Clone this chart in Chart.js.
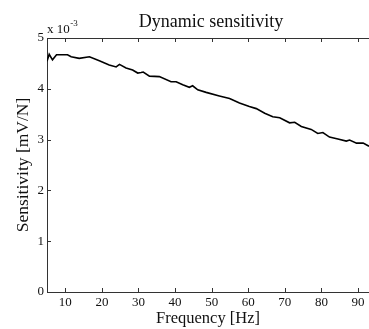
<!DOCTYPE html>
<html>
<head>
<meta charset="utf-8">
<script src="https://cdn.jsdelivr.net/npm/chart.js@4"></script>
<style>
  html, body { margin: 0; padding: 0; background: #fff; }
  #wrap { width: 369px; height: 329px; }
</style>
</head>
<body>
<div id="wrap"><canvas id="c" width="369" height="329"></canvas></div>
<script>
// ---- data ----
const chartTitle = "Dynamic sensitivity";
const xTitle = "Frequency [Hz]";
const yTitle = "Sensitivity [mV/N]";
const yExponent = "-3";
const frequency = [5, 5.6, 6.5, 7.6, 10.6, 11.6, 13.8, 16.6, 19.3, 22, 23.9, 24.8, 26.6, 28.4, 29.8, 30.7, 31.3, 33, 35.7, 38.9, 40.3, 42.1, 43.9, 44.8, 46.2, 48.5, 52.1, 54.9, 57.6, 60.3, 62.2, 64.5, 66.7, 68.6, 71.3, 72.7, 74.5, 77.2, 79, 80.4, 82.2, 84.5, 86.8, 87.7, 89.6, 91.4, 93];
const sensitivity = [4.54, 4.68, 4.57, 4.67, 4.67, 4.63, 4.60, 4.63, 4.55, 4.47, 4.43, 4.48, 4.41, 4.37, 4.31, 4.32, 4.33, 4.25, 4.24, 4.14, 4.14, 4.08, 4.03, 4.06, 3.98, 3.93, 3.86, 3.81, 3.72, 3.65, 3.61, 3.52, 3.45, 3.43, 3.33, 3.34, 3.26, 3.20, 3.12, 3.14, 3.05, 3.01, 2.97, 2.99, 2.93, 2.93, 2.87];
const xTicks = [10, 20, 30, 40, 50, 60, 70, 80, 90];
const yTicks = [0, 1, 2, 3, 4, 5];

const serif = "'Liberation Serif', 'Times New Roman', serif";
const axisColor = '#333';

const decorPlugin = {
  id: 'decor',
  afterDraw(chart) {
    const ctx = chart.ctx;
    const a = chart.chartArea;
    const xs = chart.scales.x, ys = chart.scales.y;
    ctx.save();
    ctx.strokeStyle = axisColor;
    ctx.lineWidth = 1;
    // top border
    ctx.beginPath();
    ctx.moveTo(a.left, a.top + 0.5);
    ctx.lineTo(a.right, a.top + 0.5);
    ctx.stroke();
    // inward ticks
    const L = 4;
    ctx.beginPath();
    xTicks.forEach(v => {
      const px = Math.round(xs.getPixelForValue(v)) + 0.5;
      ctx.moveTo(px, a.bottom); ctx.lineTo(px, a.bottom - L);
      ctx.moveTo(px, a.top); ctx.lineTo(px, a.top + L);
    });
    yTicks.forEach(v => {
      const py = Math.round(ys.getPixelForValue(v)) + 0.5;
      ctx.moveTo(a.left, py); ctx.lineTo(a.left + L, py);
    });
    ctx.stroke();
    // title
    ctx.fillStyle = '#111';
    ctx.font = "18px " + serif;
    ctx.textAlign = 'center';
    ctx.textBaseline = 'alphabetic';
    ctx.fillText(chartTitle, 211, 27);
    // exponent
    ctx.textAlign = 'left';
    ctx.font = "13px " + serif;
    ctx.fillText("x 10", 47, 33);
    const w = ctx.measureText("x 10").width;
    ctx.font = "9px " + serif;
    ctx.fillText(yExponent, 47 + w + 0.5, 26);
    ctx.restore();
  }
};

new Chart(document.getElementById('c'), {
  type: 'line',
  data: {
    datasets: [{
      data: frequency.map((f, i) => ({ x: f, y: sensitivity[i] })),
      borderColor: '#000',
      borderWidth: 1.6,
      pointRadius: 0,
      tension: 0,
      fill: false
    }]
  },
  options: {
    responsive: false,
    animation: false,
    devicePixelRatio: 1,
    layout: { padding: { top: 38, left: 0, right: 0, bottom: 0 } },
    plugins: { legend: { display: false }, tooltip: { enabled: false } },
    scales: {
      x: {
        type: 'linear',
        min: 5,
        max: 93,
        afterBuildTicks(s) { s.ticks = xTicks.map(v => ({ value: v })); },
        afterFit(s) { s.height = 37; },
        grid: { display: true, drawOnChartArea: false, drawTicks: false, color: axisColor },
        border: { display: true, color: axisColor, width: 1 },
        ticks: { color: '#111', font: { family: serif, size: 13 }, padding: 3, maxRotation: 0 },
        title: { display: true, text: xTitle, color: '#111', font: { family: serif, size: 16.5 }, padding: { top: 0, bottom: 0 } }
      },
      y: {
        type: 'linear',
        min: 0,
        max: 5,
        afterBuildTicks(s) { s.ticks = yTicks.map(v => ({ value: v })); },
        afterFit(s) { s.width = 47; },
        grid: { display: true, drawOnChartArea: false, drawTicks: false, color: axisColor },
        border: { display: true, color: axisColor, width: 1 },
        ticks: { color: '#111', font: { family: serif, size: 13 }, padding: 3 },
        title: { display: true, text: yTitle, color: '#111', font: { family: serif, size: 17.5 }, padding: { top: 13, bottom: 0 } }
      }
    }
  },
  plugins: [decorPlugin]
});
</script>
</body>
</html>
